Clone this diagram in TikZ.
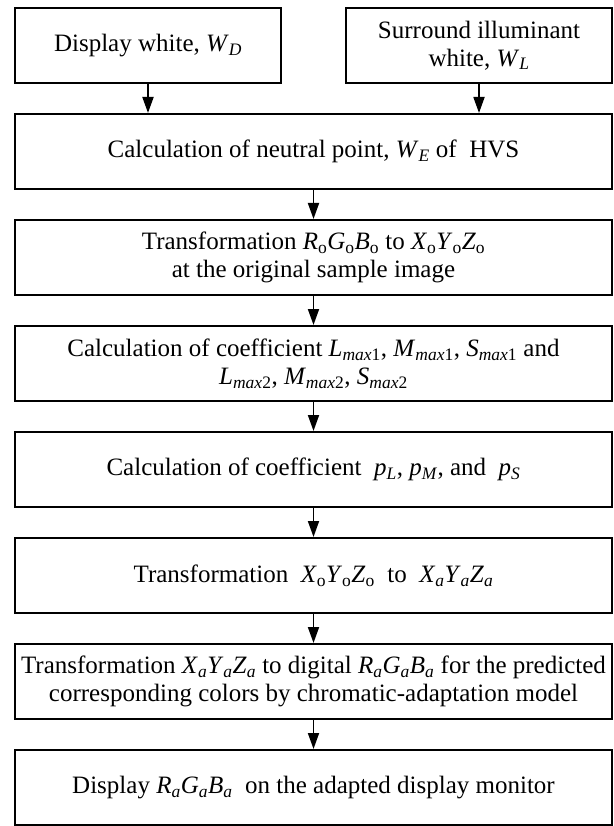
\documentclass[tikz,border=0pt]{standalone}
\usepackage{fontspec}
\setmainfont{Liberation Serif}
\usetikzlibrary{arrows.meta}
\newcommand\iv[1]{\textit{#1}}
\newcommand\vsub[2]{\textit{#1}\textsubscript{#2}}
\begin{document}
\begin{tikzpicture}[x=1pt,y=-1pt,
  box/.style={draw, line width=2pt, minimum height=75pt, align=center,
    inner sep=2pt, font=\fontsize{25}{28}\selectfont},
  wide/.style={box, minimum width=597pt},
  half/.style={box, minimum width=266pt},
  arr/.style={line width=1.8pt, -{Triangle[length=16pt,width=11pt]}}]
\useasboundingbox (0,0) rectangle (613,826);
\node[half] (dw) at (148,45.5) {Display white, \vsub{W}{\iv{D}}};
\node[half] (sw) at (479,45.5) {Surround illuminant\\ white, \vsub{W}{\iv{L}}};
\node[wide] (np) at (313.5,151.5) {Calculation of neutral point, \vsub{W}{\iv{E}} of\ \ HVS};
\node[wide] (t1) at (313.5,257.5) {Transformation \vsub{R}{o}\vsub{G}{o}\vsub{B}{o} to \vsub{X}{o}\vsub{Y}{o}\vsub{Z}{o}\\ at the original sample image};
\node[wide] (c1) at (313.5,363.5) {Calculation of coefficient \vsub{L}{\iv{max}1}, \vsub{M}{\iv{max}1}, \vsub{S}{\iv{max}1} and\\ \vsub{L}{\iv{max}2}, \vsub{M}{\iv{max}2}, \vsub{S}{\iv{max}2}};
\node[wide] (c2) at (313.5,469.5) {Calculation of coefficient\ \ \vsub{p}{\iv{L}},\ \vsub{p}{\iv{M}},\ and\ \ \vsub{p}{\iv{S}}};
\node[wide] (t2) at (313.5,575.5) {Transformation\ \ \vsub{X}{o}\vsub{Y}{o}\vsub{Z}{o}\ \ to\ \ \vsub{X}{\iv{a}}\vsub{Y}{\iv{a}}\vsub{Z}{\iv{a}}};
\node[wide] (t3) at (313.5,681.5) {Transformation \vsub{X}{\iv{a}}\vsub{Y}{\iv{a}}\vsub{Z}{\iv{a}} to digital \vsub{R}{\iv{a}}\vsub{G}{\iv{a}}\vsub{B}{\iv{a}} for the predicted\\ corresponding colors by chromatic-adaptation model};
\node[wide] (dm) at (313.5,787.5) {Display \vsub{R}{\iv{a}}\vsub{G}{\iv{a}}\vsub{B}{\iv{a}}\ \ on the adapted display monitor};
\draw[arr] (dw.south) -- (dw.south |- np.north);
\draw[arr] (sw.south) -- (sw.south |- np.north);
\draw[arr] (np) -- (t1);
\draw[arr] (t1) -- (c1);
\draw[arr] (c1) -- (c2);
\draw[arr] (c2) -- (t2);
\draw[arr] (t2) -- (t3);
\draw[arr] (t3) -- (dm);
\end{tikzpicture}
\end{document}
